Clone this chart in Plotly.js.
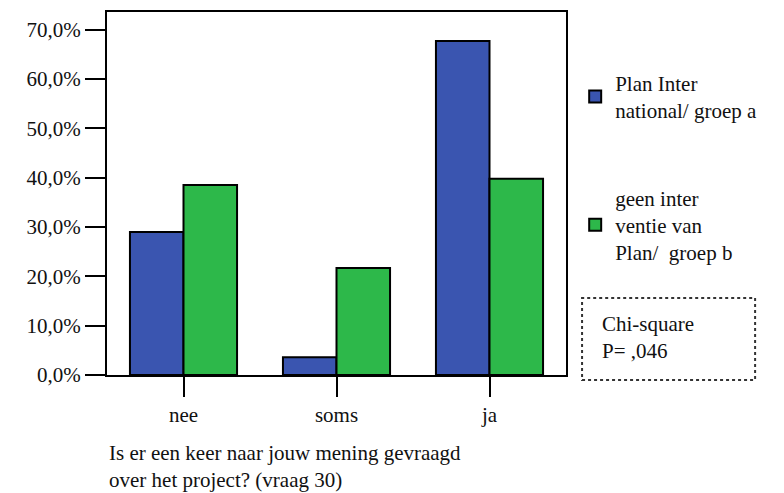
<!DOCTYPE html>
<html>
<head>
<meta charset="utf-8">
<script src="https://cdn.plot.ly/plotly-3.0.1.min.js"></script>
<style>html,body{margin:0;padding:0;background:#fff;}</style>
</head>
<body>
<div id="chart" style="width:784px;height:493px;"></div>
<script>
var categories = ["nee", "soms", "ja"];
var groepA = [29.0, 3.6, 67.7];
var groepB = [38.5, 21.7, 39.8];
var seriesNames = ["Plan Inter<br>national/ groep a", "geen inter<br>ventie van<br>Plan/  groep b"];
var yTicks = [0, 10, 20, 30, 40, 50, 60, 70];
var yTickLabels = ["0,0%", "10,0%", "20,0%", "30,0%", "40,0%", "50,0%", "60,0%", "70,0%"];

var FONT = "Liberation Serif";

var traces = [
  {type: "bar", x: categories, y: groepA, name: seriesNames[0], legendgroup: "a",
   marker: {color: "#3a55b0", line: {color: "#000", width: 2}}},
  {type: "bar", x: categories, y: groepB, name: seriesNames[1], legendgroup: "b",
   marker: {color: "#2db84a", line: {color: "#000", width: 2}}}
];

var layout = {
  width: 784, height: 493,
  margin: {l: 107, r: 218, t: 12, b: 118},
  paper_bgcolor: "#fff", plot_bgcolor: "#fff",
  font: {family: FONT, size: 21, color: "#111"},
  barmode: "group", bargap: 0.3, bargroupgap: 0,
  xaxis: {
    type: "category", range: [-0.5, 2.5],
    showline: true, mirror: true, linecolor: "#000", linewidth: 2,
    ticks: "outside", ticklen: 20, tickwidth: 2, tickcolor: "#000",
    tickfont: {family: FONT, size: 21, color: "#111"},
    showgrid: false, fixedrange: true
  },
  yaxis: {
    range: [0, 73.6],
    tickmode: "array", tickvals: yTicks, ticktext: yTickLabels,
    showline: true, mirror: true, linecolor: "#000", linewidth: 2,
    ticks: "outside", ticklen: 20, tickwidth: 2, tickcolor: "#000",
    tickfont: {family: FONT, size: 21, color: "#111"},
    showgrid: false, zeroline: false, fixedrange: true
  },
  showlegend: true,
  legend: {
    x: 1.02, xanchor: "left", y: 0.86, yanchor: "top",
    traceorder: "grouped", tracegroupgap: 57, valign: "middle",
    font: {family: FONT, size: 21, color: "#111"},
    bgcolor: "rgba(0,0,0,0)"
  },
  shapes: [
    {type: "rect", xref: "paper", yref: "paper", x0: 1.035, x1: 1.412, y0: -0.014, y1: 0.212,
     line: {color: "#333", width: 2, dash: "dot"}}
  ],
  annotations: [
    {xref: "paper", yref: "paper", x: 1.075, y: 0.102, xanchor: "left", yanchor: "middle",
     align: "left", showarrow: false, text: "Chi-square<br>P= ,046",
     font: {family: FONT, size: 21, color: "#111"}},
    {xref: "paper", yref: "paper", x: 0.0, y: -0.251, xanchor: "left", yanchor: "middle",
     align: "left", showarrow: false,
     text: "Is er een keer naar jouw mening gevraagd<br>over het project? (vraag 30)",
     font: {family: FONT, size: 21, color: "#111"}}
  ]
};

Plotly.newPlot("chart", traces, layout, {displayModeBar: false, staticPlot: true});
</script>
</body>
</html>
